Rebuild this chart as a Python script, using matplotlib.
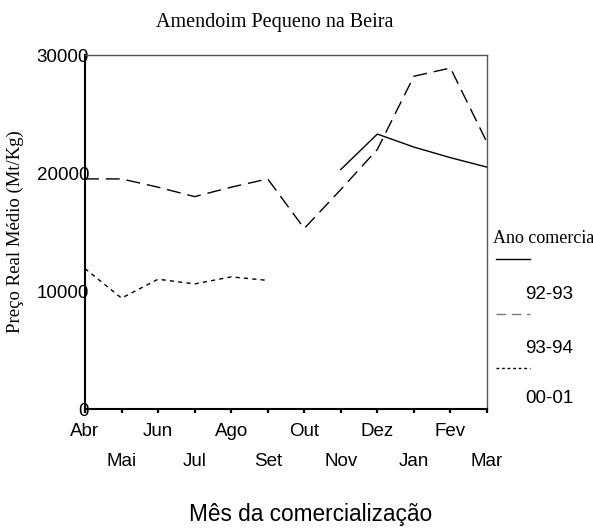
import numpy as np
import matplotlib
matplotlib.use("Agg")
import matplotlib.pyplot as plt
from matplotlib.lines import Line2D

months = ["Abr", "Mai", "Jun", "Jul", "Ago", "Set", "Out", "Nov", "Dez", "Jan", "Fev", "Mar"]
nan = np.nan

# 92-93 only from Nov onwards
s_9293 = [nan, nan, nan, nan, nan, nan, nan, 20300, 23300, 22200, 21300, 20500]
s_9394 = [19500, 19500, 18800, 18000, 18800, 19500, 15300, 18600, 22000, 28200, 28900, 22600]
s_0001 = [11900, 9400, 11000, 10600, 11200, 10900, nan, nan, nan, nan, nan, nan]

series_labels = ["92-93", "93-94", "00-01"]
y_ticks = [0, 10000, 20000, 30000]

SERIF = "Liberation Serif"
SANS = "Liberation Sans"


def make_plot():
    fig = plt.figure(figsize=(5.93, 5.29), dpi=100)
    ax = fig.add_axes([0.1433, 0.2268, 0.6779, 0.6692])

    x = np.arange(len(months))
    ax.plot(x, s_9293, color="black", lw=1.0)
    ax.plot(x, s_9394, color="black", lw=1.0, dashes=(10, 5))
    ax.plot(x, s_0001, color="black", lw=1.0, dashes=(3, 3))

    ax.set_xlim(0, len(months) - 1)
    ax.set_ylim(0, 30000)

    # alternate month labels on two rows
    ax.set_xticks(x[::2])
    ax.set_xticklabels(months[::2], fontfamily=SANS, fontsize=13.5)
    ax.set_xticks(x[1::2], minor=True)
    ax.set_xticklabels(months[1::2], minor=True, fontfamily=SANS, fontsize=13.5)
    ax.tick_params(axis="x", which="both", direction="out", length=3, width=1.6)
    ax.tick_params(axis="x", which="major", pad=7)
    ax.tick_params(axis="x", which="minor", pad=29)

    ax.set_yticks(y_ticks)
    ax.set_yticklabels([str(v) for v in y_ticks], fontfamily=SANS, fontsize=13.5)
    ax.tick_params(axis="y", length=0, pad=-3)

    for side in ["left", "bottom"]:
        ax.spines[side].set_linewidth(1.5)
        ax.spines[side].set_color("black")
    for side in ["top", "right"]:
        ax.spines[side].set_linewidth(1.0)
        ax.spines[side].set_color("#555555")

    fig.text(0.026, 0.562, "Preço Real Médio (Mt/Kg)", fontfamily=SERIF, fontsize=13.5,
             rotation=90, ha="center", va="center")
    fig.text(0.464, 0.958, "Amendoim Pequeno na Beira", fontfamily=SERIF, fontsize=14.5,
             ha="center", va="center")
    fig.text(0.523, 0.027, "Mês da comercialização", fontfamily=SANS, fontsize=16.3,
             ha="center", va="center")

    # hand made legend to the right of the axes
    fig.text(0.831, 0.549, "Ano comercia", fontfamily=SERIF, fontsize=13,
             ha="left", va="center")
    leg_styles = [dict(color="black"), dict(color="#777777", dashes=(7, 4)),
                  dict(color="black", dashes=(2, 2))]
    line_y = [0.510, 0.406, 0.304]
    text_y = [0.444, 0.342, 0.246]
    for lab, sty, ly, ty in zip(series_labels, leg_styles, line_y, text_y):
        fig.add_artist(Line2D([0.836, 0.893], [ly, ly], transform=fig.transFigure, lw=1.0, **sty))
        fig.text(0.885, ty, lab, fontfamily=SANS, fontsize=13.5, ha="left", va="center")

    fig.savefig("out.png", dpi=100)


if __name__ == "__main__":
    make_plot()
